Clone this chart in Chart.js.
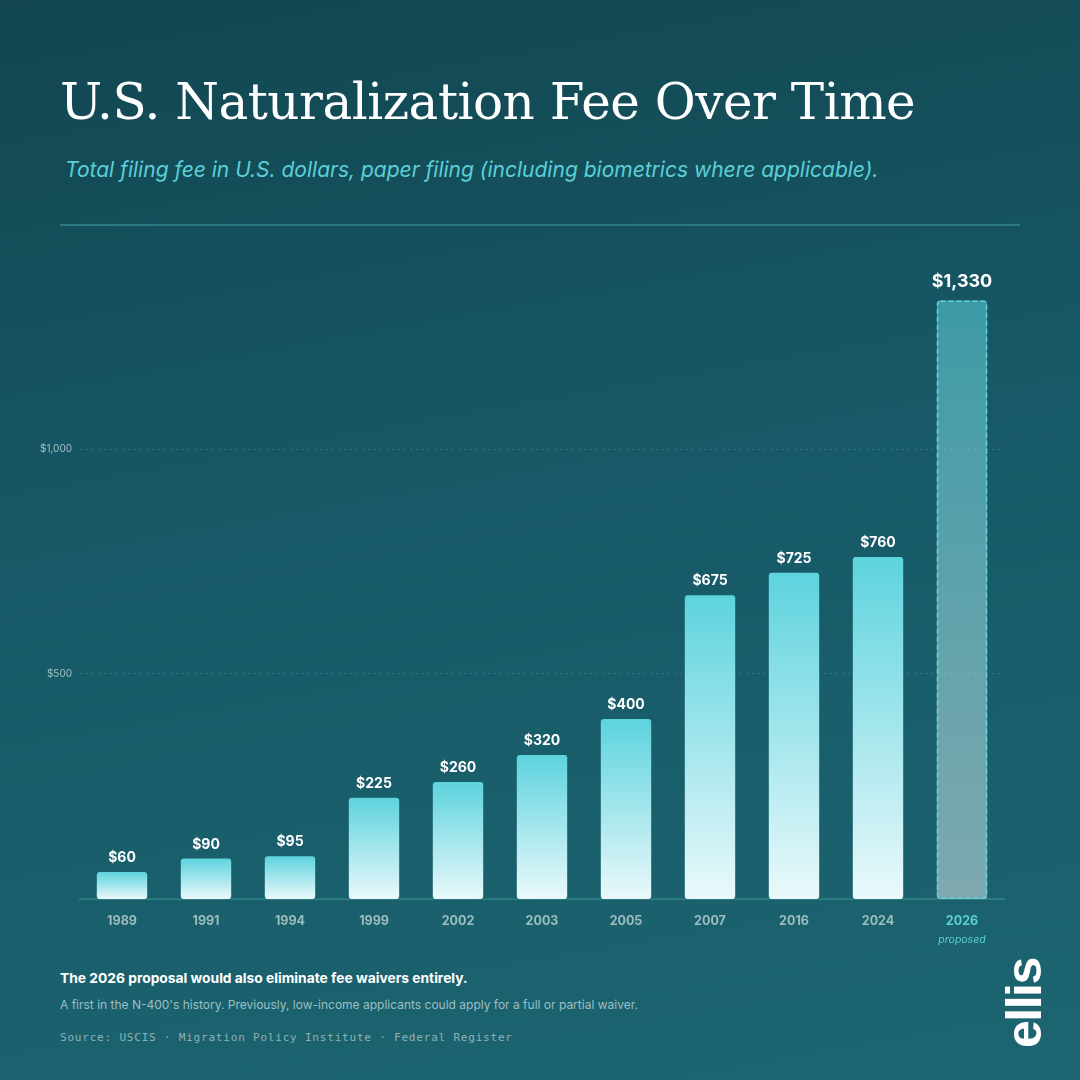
<!DOCTYPE html>
<html>
<head>
<meta charset="utf-8">
<script src="https://cdn.jsdelivr.net/npm/chart.js@4/dist/chart.umd.min.js"></script>
<style>
  html, body { margin: 0; padding: 0; }
  body {
    width: 1080px; height: 1080px; position: relative; overflow: hidden;
    background: linear-gradient(170deg, #114650 0%, #175966 45%, #1c6571 100%);
    font-family: Inter, "Liberation Sans", Arial, sans-serif;
  }
  #title {
    position: absolute; left: 60px; top: 77px; margin: 0;
    font-family: "DejaVu Serif", "Liberation Serif", serif; font-weight: normal;
    font-size: 50px; color: #ffffff; line-height: 1; white-space: nowrap; letter-spacing: -0.5px;
  }
  #subtitle {
    position: absolute; left: 65px; top: 157px; margin: 0;
    font-style: italic; font-size: 21px; color: #5ccfd8; white-space: nowrap;
  }
  #rule { position: absolute; left: 60px; top: 224px; width: 960px; height: 2px; background: #2a7880; }
  #wrap { position: absolute; left: 0; top: 240px; width: 1080px; height: 720px; }
  #note1 { position: absolute; left: 60px; top: 970px; font-weight: bold; font-size: 13.8px; color: #ffffff; }
  #note2 { position: absolute; left: 60px; top: 997px; font-size: 12px; color: #9dbfc2; }
  #source {
    position: absolute; left: 60px; top: 1031px; font-family: "DejaVu Sans Mono", "Liberation Mono", monospace;
    font-size: 11px; color: #8fb2b5; letter-spacing: 0.8px;
  }
  #logo {
    position: absolute; left: 999px; top: 1048px; transform-origin: 0 0; transform: rotate(-90deg);
    font-family: "Liberation Sans", Arial, sans-serif; font-weight: bold; font-size: 50px; color: #ffffff;
    letter-spacing: -1.5px; line-height: 1;
  }
</style>
</head>
<body>
<h1 id="title">U.S. Naturalization Fee Over Time</h1>
<p id="subtitle">Total filing fee in U.S. dollars, paper filing (including biometrics where applicable).</p>
<div id="rule"></div>
<div id="wrap"><canvas id="feeChart"></canvas></div>
<div id="note1">The 2026 proposal would also eliminate fee waivers entirely.</div>
<div id="note2">A first in the N-400's history. Previously, low-income applicants could apply for a full or partial waiver.</div>
<div id="source">Source: USCIS · Migration Policy Institute · Federal Register</div>
<div id="logo">ellis</div>
<script>
var years = ['1989', '1991', '1994', '1999', '2002', '2003', '2005', '2007', '2016', '2024', '2026'];
var fees = [60, 90, 95, 225, 260, 320, 400, 675, 725, 760, 1330];
var yTicks = [500, 1000];
var proposedYear = '2026';
var proposedNote = 'proposed';

var CYAN = '#5dd3de';
var PALE = '#eaf9fb';
var SANS = 'Inter, "Liberation Sans", Arial, sans-serif';

function money(v){
    return '$' + v.toLocaleString('en-US');
}

function barFill(ctx){
    var chart = ctx.chart;
    var y = chart.scales.y;
    if (!y || !chart.chartArea) return CYAN;
    var top = y.getPixelForValue(fees[ctx.dataIndex]);
    var bottom = y.getPixelForValue(0);
    var g = chart.ctx.createLinearGradient(0, top, 0, bottom);
    if (years[ctx.dataIndex] === proposedYear){
        g.addColorStop(0, 'rgba(93,211,222,0.55)');
        g.addColorStop(1, 'rgba(225,240,240,0.5)');
    } else {
        g.addColorStop(0, CYAN);
        g.addColorStop(1, PALE);
    }
    return g;
}

var labelsPlugin = {
    id: 'barLabels',
    afterDatasetsDraw: function(chart){
        var c = chart.ctx;
        var meta = chart.getDatasetMeta(0);
        c.save();
        meta.data.forEach(function(bar, i){
            var proposed = years[i] === proposedYear;
            if (proposed){
                // dashed outline for the proposed fee
                var w = bar.width;
                c.strokeStyle = '#5fd3de';
                c.lineWidth = 1.5;
                c.setLineDash([5, 3]);
                c.beginPath();
                c.roundRect(bar.x - w / 2 + 0.75, bar.y + 0.75, w - 1.5, bar.base - bar.y - 1.5, 3);
                c.stroke();
                c.setLineDash([]);
            }
            c.fillStyle = '#ffffff';
            c.textAlign = 'center';
            c.textBaseline = 'middle';
            c.font = (proposed ? 'bold 18px ' : 'bold 14px ') + SANS;
            c.fillText(money(fees[i]), bar.x, bar.y - (proposed ? 19 : 14));
        });
        var x = chart.scales.x;
        var px = x.getPixelForValue(years.indexOf(proposedYear));
        c.fillStyle = '#5ccfd8';
        c.font = 'italic 10.5px ' + SANS;
        c.fillText(proposedNote, px, chart.chartArea.bottom + 41);
        c.restore();
    }
};

var ctx = document.getElementById('feeChart').getContext('2d');
var chart = new Chart(ctx, {
    type: 'bar',
    data: {
        labels: years,
        datasets: [{
            label: 'Fee',
            data: fees,
            backgroundColor: barFill,
            borderWidth: 0,
            borderRadius: 3,
            borderSkipped: false,
            barPercentage: 0.6,
            categoryPercentage: 1
        }]
    },
    options: {
        responsive: true,
        maintainAspectRatio: false,
        animation: false,
        layout: { padding: { left: 0, right: 76, top: 29, bottom: 0 } },
        plugins: {
            legend: { display: false },
            tooltip: { enabled: false }
        },
        scales: {
            x: {
                grid: { display: false },
                border: { color: '#2c7a82', width: 2 },
                ticks: {
                    padding: 7,
                    color: function(c){ return years[c.index] === proposedYear ? '#5ccfd8' : '#9cbcbf'; },
                    font: { family: SANS, size: 12.5, weight: 'bold' }
                },
                afterFit: function(s){ s.height = 61; }
            },
            y: {
                min: 0,
                max: 1400,
                border: { display: false, dash: [2, 4] },
                grid: {
                    color: 'rgba(150,210,215,0.25)',
                    lineWidth: 1,
                    drawTicks: false
                },
                ticks: {
                    padding: 8,
                    color: '#9fc0c3',
                    font: { family: SANS, size: 10 },
                    callback: function(v){ return money(v); }
                },
                afterBuildTicks: function(s){
                    s.ticks = yTicks.map(function(v){ return { value: v }; });
                },
                afterFit: function(s){ s.width = 80; }
            }
        }
    },
    plugins: [labelsPlugin]
});
</script>
</body>
</html>
